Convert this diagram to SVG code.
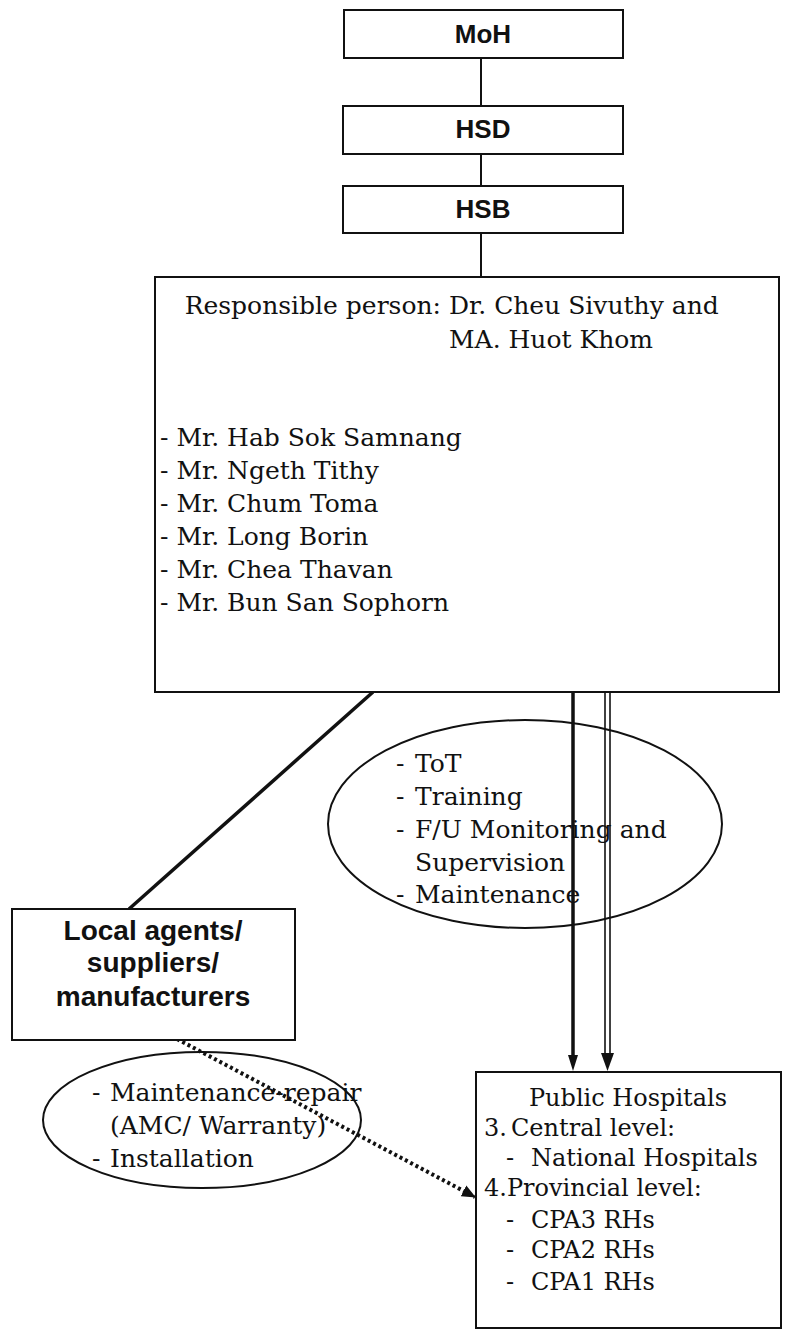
<svg xmlns="http://www.w3.org/2000/svg" width="807" height="1337" viewBox="0 0 807 1337">
<style>
.box{fill:#fff;stroke:#111;stroke-width:2}
.ell{fill:none;stroke:#111;stroke-width:2}
.hd{font-family:"Liberation Sans",Arial,sans-serif;font-weight:bold;font-size:26px;fill:#111;text-anchor:middle}
.hd2{font-family:"Liberation Sans",Arial,sans-serif;font-weight:bold;font-size:28px;fill:#111;text-anchor:middle}
.tx{font-family:"DejaVu Serif","Liberation Serif",serif;font-size:25px;fill:#111}
.ph{font-size:24px}
.ln{stroke:#111;stroke-width:2;fill:none}
.thick{stroke:#111;stroke-width:3.5;fill:none}
.dot{stroke:#111;stroke-width:4;stroke-dasharray:3 3;fill:none}
</style>
<defs>
<marker id="ahd" markerWidth="14" markerHeight="14" refX="13" refY="7" orient="auto" markerUnits="userSpaceOnUse">
<path d="M0,1 L14,7 L0,13 Z" fill="#111"/>
</marker>
</defs>
<rect width="807" height="1337" fill="#fff"/>

<g id="connectors">
<line class="ln" x1="481" y1="58" x2="481" y2="106"/>
<line class="ln" x1="481" y1="154" x2="481" y2="186"/>
<line class="ln" x1="481" y1="233" x2="481" y2="277"/>
<line class="thick" x1="373" y1="692" x2="129" y2="909"/>
<line class="thick" x1="573" y1="692" x2="573" y2="1058"/>
<polygon points="573,1071 568,1055 578,1055" fill="#111"/>
<line class="ln" x1="605" y1="692" x2="605" y2="1055" style="stroke-width:1.6"/>
<line class="ln" x1="610" y1="692" x2="610" y2="1055" style="stroke-width:1.6"/>
<polygon points="607.5,1071 601,1053 614,1053" fill="#111"/>
<line class="dot" x1="177" y1="1039" x2="475" y2="1197" marker-end="url(#ahd)"/>
</g>

<g id="moh">
<rect class="box" x="344" y="10" width="279" height="48"/>
<text class="hd" x="483" y="43">MoH</text>
</g>
<g id="hsd">
<rect class="box" x="343" y="106" width="280" height="48"/>
<text class="hd" x="483" y="138">HSD</text>
</g>
<g id="hsb">
<rect class="box" x="343" y="186" width="280" height="47"/>
<text class="hd" x="483" y="218">HSB</text>
</g>

<g id="responsible">
<rect class="box" x="155" y="277" width="624" height="415"/>
<text class="tx" x="441" y="314" text-anchor="end">Responsible person:</text>
<text class="tx" x="449" y="314">Dr. Cheu Sivuthy and</text>
<text class="tx" x="449" y="348">MA. Huot Khom</text>
<text class="tx" x="160" y="446">- Mr. Hab Sok Samnang</text>
<text class="tx" x="160" y="479">- Mr. Ngeth Tithy</text>
<text class="tx" x="160" y="512">- Mr. Chum Toma</text>
<text class="tx" x="160" y="545">- Mr. Long Borin</text>
<text class="tx" x="160" y="578">- Mr. Chea Thavan</text>
<text class="tx" x="160" y="611">- Mr. Bun San Sophorn</text>
</g>

<g id="training">
<ellipse class="ell" cx="525" cy="824" rx="197" ry="104"/>
<text class="tx" x="396" y="772">-</text><text class="tx" x="415" y="772">ToT</text>
<text class="tx" x="396" y="805">-</text><text class="tx" x="415" y="805">Training</text>
<text class="tx" x="396" y="838">-</text><text class="tx" x="415" y="838">F/U Monitoring and</text>
<text class="tx" x="415" y="871">Supervision</text>
<text class="tx" x="396" y="903">-</text><text class="tx" x="415" y="903">Maintenance</text>
</g>

<g id="local-agents">
<rect class="box" x="12" y="909" width="283" height="131"/>
<text class="hd2" x="153" y="940">Local agents/</text>
<text class="hd2" x="153" y="972">suppliers/</text>
<text class="hd2" x="153" y="1006">manufacturers</text>
</g>

<g id="maintenance">
<ellipse class="ell" cx="202" cy="1120" rx="159" ry="68"/>
<text class="tx" x="92" y="1101">-</text><text class="tx" x="110" y="1101">Maintenance-repair</text>
<text class="tx" x="110" y="1134">(AMC/ Warranty)</text>
<text class="tx" x="92" y="1167">-</text><text class="tx" x="110" y="1167">Installation</text>
</g>

<g id="public-hospitals">
<rect class="box" x="476" y="1072" width="305" height="256"/>
<text class="tx ph" x="628" y="1106" text-anchor="middle">Public Hospitals</text>
<text class="tx ph" x="484" y="1136">3.</text><text class="tx ph" x="511" y="1136">Central level:</text>
<text class="tx ph" x="506" y="1166">-</text><text class="tx ph" x="531" y="1166">National Hospitals</text>
<text class="tx ph" x="484" y="1196">4.Provincial level:</text>
<text class="tx ph" x="506" y="1228">-</text><text class="tx ph" x="531" y="1228">CPA3 RHs</text>
<text class="tx ph" x="506" y="1258">-</text><text class="tx ph" x="531" y="1258">CPA2 RHs</text>
<text class="tx ph" x="506" y="1290">-</text><text class="tx ph" x="531" y="1290">CPA1 RHs</text>
</g>
</svg>
